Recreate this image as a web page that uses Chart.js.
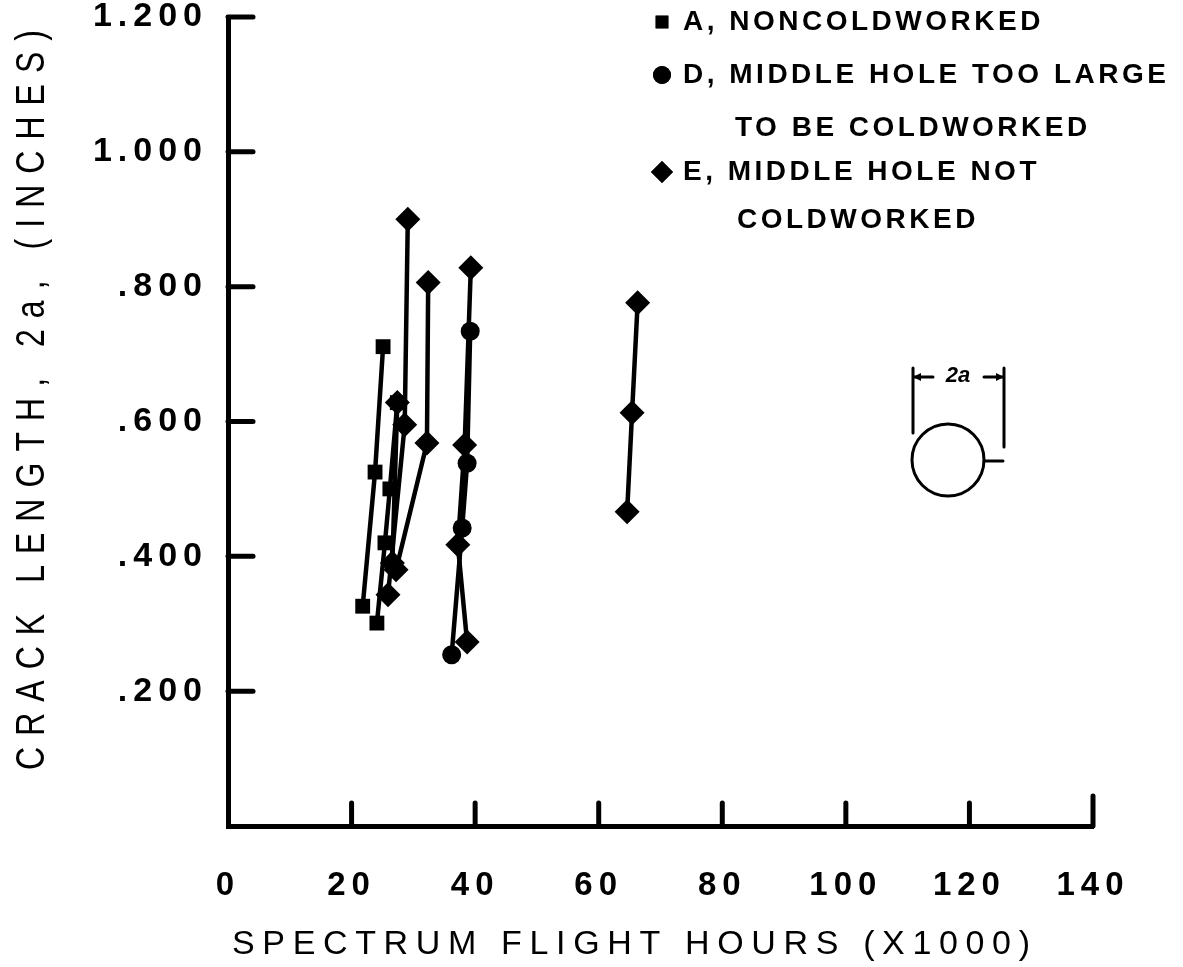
<!DOCTYPE html>
<html>
<head>
<meta charset="utf-8">
<title>Crack length vs spectrum flight hours</title>
<script src="https://cdn.jsdelivr.net/npm/chart.js@4.4.1/dist/chart.umd.min.js"></script>
<style>
html, body { margin: 0; padding: 0; background: #fff; }
#wrap { position: relative; width: 1183px; height: 967px; }
</style>
</head>
<body>
<div id="wrap"><canvas id="crackChart" width="1183" height="967"></canvas></div>
<script>
// Data: flight hours (x1000) and crack length 2a (inches)
const hoursA1 = [21.8, 23.8, 25.1];
const crackA1 = [0.326, 0.525, 0.711];
const hoursA2 = [24.1, 25.4, 26.2, 27.4];
const crackA2 = [0.301, 0.420, 0.500, 0.628];
const hoursD1 = [36.2, 37.9, 38.7, 39.2];
const crackD1 = [0.254, 0.442, 0.538, 0.734];
const hoursE1 = [25.9, 28.6, 29.1];
const crackE1 = [0.343, 0.595, 0.900];
const hoursE2 = [27.2, 32.2, 32.4];
const crackE2 = [0.380, 0.568, 0.806];
const hoursE3 = [38.7, 37.2, 38.3, 39.3];
const crackE3 = [0.273, 0.417, 0.565, 0.828];
const hoursE4 = [64.6, 65.4, 66.3];
const crackE4 = [0.466, 0.613, 0.776];
const hoursE5 = [26.6, 27.4];
const crackE5 = [0.390, 0.628];

// Tick labels
const xTickLabels = ['0', '20', '40', '60', '80', '100', '120', '140'];
const yTickLabels = ['', '.200', '.400', '.600', '.800', '1.000', '1.200'];

// Legend / titles
const legendRows = [
    { marker: 'rect', text: 'A, NONCOLDWORKED' },
    { marker: 'circle', text: 'D, MIDDLE HOLE TOO LARGE' },
    { marker: null, text: 'TO BE COLDWORKED' },
    { marker: 'rectRot', text: 'E, MIDDLE HOLE NOT' },
    { marker: null, text: 'COLDWORKED' }
];
const xTitle = 'SPECTRUM FLIGHT HOURS (X1000)';
const yTitle = 'CRACK LENGTH, 2a, (INCHES)';

const FONT = "'Liberation Sans', Arial, sans-serif";

function toPoints(xs, ys) {
    return xs.map((x, i) => ({ x: x, y: ys[i] }));
}

function series(label, xs, ys, style) {
    const r = style === 'rect' ? 10.5 : (style === 'rectRot' ? 12.5 : 9.5);
    return {
        label: label,
        data: toPoints(xs, ys),
        showLine: true,
        borderColor: '#000',
        borderWidth: 4.5,
        backgroundColor: '#000',
        pointStyle: style,
        pointRadius: r,
        pointBorderWidth: 0,
        pointBackgroundColor: '#000'
    };
}

// draw text stretched to a target width with letter spacing (optionally squeezed)
function drawSpaced(ctx, text, x, y, target, align, squeeze) {
    const sx = squeeze || 1;
    ctx.save();
    ctx.letterSpacing = '0px';
    const w = ctx.measureText(text).width * sx;
    const sp = Math.max(0, (target - w) / Math.max(1, text.length - 1));
    const startX = align === 'center' ? x - target / 2 : x;
    ctx.translate(startX, y);
    ctx.scale(sx, 1);
    ctx.letterSpacing = (sp / sx) + 'px';
    ctx.textAlign = 'left';
    ctx.textBaseline = 'middle';
    ctx.fillText(text, 0, 0);
    ctx.restore();
}

const decorPlugin = {
    id: 'decor',
    beforeDraw(chart) {
        chart.ctx.letterSpacing = '6px';
    },
    afterDraw(chart) {
        const ctx = chart.ctx;
        const xs = chart.scales.x;
        const ys = chart.scales.y;
        const area = chart.chartArea;
        ctx.save();
        ctx.letterSpacing = '0px';
        ctx.strokeStyle = '#000';
        ctx.fillStyle = '#000';
        ctx.lineCap = 'round';

        // inward tick marks
        ctx.lineWidth = 5;
        xs.ticks.forEach((t, i) => {
            if (t.value === 0) return;
            const px = xs.getPixelForValue(t.value);
            const len = i === xs.ticks.length - 1 ? 30 : 23;
            ctx.beginPath();
            ctx.moveTo(px, area.bottom);
            ctx.lineTo(px, area.bottom - len);
            ctx.stroke();
        });
        ys.ticks.forEach(t => {
            if (t.value === 0) return;
            const py = ys.getPixelForValue(t.value);
            ctx.beginPath();
            ctx.moveTo(area.left, py);
            ctx.lineTo(area.left + 25, py);
            ctx.stroke();
        });

        // axis titles
        ctx.font = '34px ' + FONT;
        drawSpaced(ctx, xTitle, 631, 945, 798, 'center', 1);
        ctx.save();
        ctx.translate(33, 400);
        ctx.rotate(-Math.PI / 2);
        ctx.font = '40px ' + FONT;
        drawSpaced(ctx, yTitle, 0, 0, 740, 'center', 0.8);
        ctx.restore();

        // legend
        const rowY = [22, 75, 128, 172, 220];
        const rowX = [683, 683, 735, 683, 737];
        ctx.font = 'bold 28px ' + FONT;
        ctx.letterSpacing = '3.5px';
        ctx.textAlign = 'left';
        ctx.textBaseline = 'middle';
        legendRows.forEach((row, i) => {
            if (row.marker) {
                Chart.helpers.drawPoint(ctx, {
                    pointStyle: row.marker,
                    radius: row.marker === 'rect' ? 9 : (row.marker === 'rectRot' ? 11 : 9),
                    borderWidth: 0,
                    rotation: 0
                }, 662, rowY[i]);
                ctx.fill();
            }
            ctx.fillText(row.text, rowX[i], rowY[i]);
        });
        ctx.letterSpacing = '0px';

        // crack geometry sketch
        ctx.lineWidth = 3;
        ctx.beginPath();
        ctx.arc(948, 460, 36, 0, Math.PI * 2);
        ctx.stroke();
        ctx.beginPath();
        ctx.moveTo(984, 461); ctx.lineTo(1003, 461);
        ctx.moveTo(913, 368); ctx.lineTo(913, 433);
        ctx.moveTo(1004, 368); ctx.lineTo(1004, 447);
        ctx.moveTo(913, 377); ctx.lineTo(933, 377);
        ctx.moveTo(984, 377); ctx.lineTo(1004, 377);
        ctx.stroke();
        ctx.beginPath();
        ctx.moveTo(913, 377); ctx.lineTo(921, 373); ctx.lineTo(921, 381); ctx.closePath();
        ctx.moveTo(1004, 377); ctx.lineTo(996, 373); ctx.lineTo(996, 381); ctx.closePath();
        ctx.fill();
        ctx.font = 'italic bold 22px ' + FONT;
        ctx.textAlign = 'center';
        ctx.textBaseline = 'middle';
        ctx.fillText('2a', 958, 376);
        ctx.restore();
    }
};

const ctx = document.getElementById('crackChart').getContext('2d');
new Chart(ctx, {
    type: 'scatter',
    data: {
        datasets: [
            series('A1', hoursA1, crackA1, 'rect'),
            series('A2', hoursA2, crackA2, 'rect'),
            series('D1', hoursD1, crackD1, 'circle'),
            series('E1', hoursE1, crackE1, 'rectRot'),
            series('E2', hoursE2, crackE2, 'rectRot'),
            series('E3', hoursE3, crackE3, 'rectRot'),
            series('E4', hoursE4, crackE4, 'rectRot'),
            series('E5', hoursE5, crackE5, 'rectRot')
        ]
    },
    options: {
        responsive: false,
        animation: false,
        devicePixelRatio: 1,
        layout: { padding: { top: 17, right: 90, left: 0, bottom: 0 } },
        plugins: {
            legend: { display: false },
            tooltip: { enabled: false }
        },
        scales: {
            x: {
                type: 'linear',
                min: 0,
                max: 140,
                afterFit: function(scale) { scale.height = 141; },
                ticks: {
                    stepSize: 20,
                    color: '#000',
                    padding: 40,
                    font: { family: FONT, size: 33, weight: 'bold' },
                    callback: function(value, index) { return xTickLabels[index]; }
                },
                grid: { display: false, drawTicks: false },
                border: { display: true, color: '#000', width: 5 }
            },
            y: {
                type: 'linear',
                min: 0,
                max: 1.2,
                afterFit: function(scale) { scale.width = 228; },
                ticks: {
                    stepSize: 0.2,
                    color: '#000',
                    padding: 0,
                    font: { family: FONT, size: 34, weight: 'bold', lineHeight: 0.9 },
                    callback: function(value, index) { return yTickLabels[index]; }
                },
                grid: { display: false, drawTicks: true, tickLength: 20 },
                border: { display: true, color: '#000', width: 5 }
            }
        }
    },
    plugins: [decorPlugin]
});
</script>
</body>
</html>
